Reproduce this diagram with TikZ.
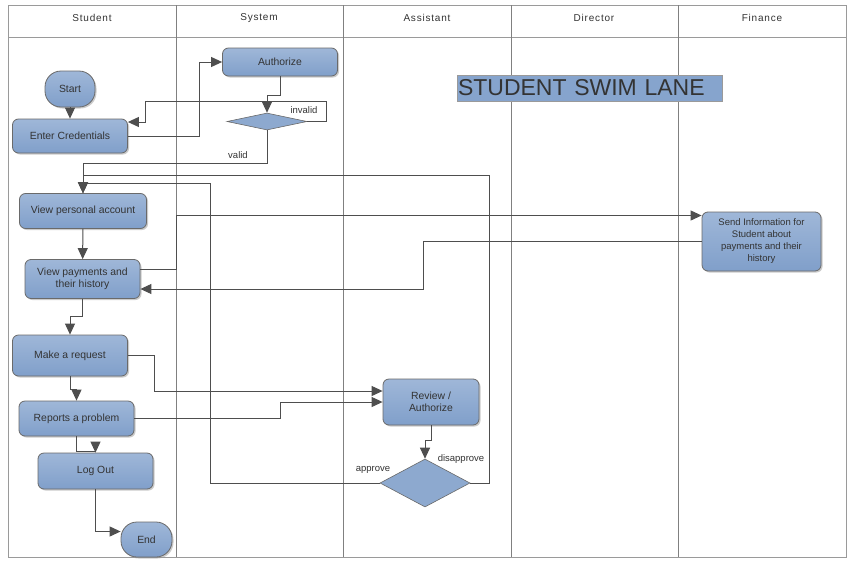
\documentclass[tikz,border=0pt]{standalone}
\usepackage{fontspec}
\setmainfont{Liberation Sans}
\usepackage{tikz}
\usetikzlibrary{arrows.meta,shapes,shadows,positioning}

\definecolor{boxtop}{HTML}{9FB7D8}
\definecolor{boxbot}{HTML}{809FCA}
\definecolor{boxline}{HTML}{6A6A6A}
\definecolor{linec}{HTML}{4E4E4E}
\definecolor{txt}{HTML}{333333}
\definecolor{lanec}{HTML}{9A9A9A}

\tikzset{
  box/.style={rectangle, rounded corners=6pt, draw=boxline, line width=0.8pt,
    top color=boxtop, bottom color=boxbot, text=txt, align=center, inner sep=0pt,
    font=\fontsize{10.4}{12.5}\selectfont,
    drop shadow={shadow xshift=1.5pt, shadow yshift=-1.5pt, fill=black!40}},
  term/.style={box, rounded corners=16pt},
  decide/.style={diamond, draw=boxline, line width=0.6pt, fill=boxbot!90!white, inner sep=0pt},
  flow/.style={draw=linec, line width=1pt, -{Triangle[length=11pt,width=10pt]}},
  lane/.style={draw=lanec, line width=0.8pt},
  lanehead/.style={text=txt, font=\fontsize{10}{12}\selectfont\addfontfeature{LetterSpace=8}},
  lbl/.style={text=txt, font=\fontsize{9.5}{11}\selectfont, inner sep=0pt}
}

\begin{document}
\begin{tikzpicture}[x=1pt,y=-1pt]
  \useasboundingbox (0,0) rectangle (856,565);
  \fill[white] (0,0) rectangle (856,565);

  % lanes
  \draw[lane] (8,5) rectangle (846,557);
  \draw[lane] (8,37) -- (846,37);
  \foreach \lx in {176,343,511,678}
    \draw[lane, draw=gray] (\lx,5) -- (\lx,557);
  \node[lanehead] (hstu) at (92,18) {Student};
  \node[lanehead] (hsys) at (259,18) {System};
  \node[lanehead] (hass) at (427,18) {Assistant};
  \node[lanehead] (hdir) at (594,18) {Director};
  \node[lanehead] (hfin) at (762,18) {Finance};

  % title
  \node[draw=lanec, fill=boxbot!95!white, text=txt, minimum width=265pt, minimum height=26pt,
        inner xsep=1pt, text width=263pt, align=left, font=\fontsize{23}{26}\selectfont]
        (ttl) at (589.5,88) {STUDENT SWIM LANE};

  % nodes
  \node[term, minimum width=50pt, minimum height=36pt] (start) at (70,89) {Start};
  \node[box, minimum width=115pt, minimum height=34pt] (enter) at (70,136) {Enter Credentials};
  \node[box, minimum width=115pt, minimum height=28pt] (auth) at (280,62) {Authorize};
  \node[decide, minimum width=80pt, minimum height=17pt] (chk) at (267,121.5) {};
  \node[box, minimum width=127pt, minimum height=35pt] (vpa) at (83,211) {View personal account};
  \node[box, minimum width=115pt, minimum height=39pt] (vp) at (82.5,279) {View payments and\\their history};
  \node[box, minimum width=119pt, minimum height=59pt, font=\fontsize{9.5}{12}\selectfont]
        (send) at (761.5,241.5) {Send Information for\\Student about\\payments and their\\history};
  \node[box, minimum width=115pt, minimum height=41pt] (req) at (70,355.5) {Make a request};
  \node[box, minimum width=115pt, minimum height=35pt] (rep) at (76.5,418.5) {Reports a problem};
  \node[box, minimum width=96pt, minimum height=46pt] (rev) at (431,402) {Review /\\Authorize};
  \node[decide, minimum width=90pt, minimum height=48pt] (dec) at (425,483) {};
  \node[box, minimum width=115pt, minimum height=36pt] (out) at (95.5,471) {Log Out};
  \node[term, minimum width=51pt, minimum height=35pt] (end) at (146.5,539.5) {End};

  \coordinate (inv) at (145,101);
  \coordinate (apv) at (210,183);
  \coordinate (dis) at (489,175);

  % connectors
  \draw[flow] (start) -- (enter);
  \draw[flow] (enter.east) -- ++(72,0) |- (auth.west);
  \draw[flow] (auth.south) -- ++(0,19) -| (chk.north);
  \draw[flow] (chk.east) -- ++(19,0) |- (inv) |- ([yshift=14pt]enter.east);
  \draw[flow] (chk.south) -- ++(0,33) -| (vpa.north);
  \draw[flow] (vpa) -- (vp);
  \draw[flow] ([yshift=10pt]vp.east) -- ++(36,0) |- ([yshift=26pt]send.west);
  \draw[flow] (send.west) -- ++(-278,0) |- ([yshift=-10pt]vp.east);
  \draw[flow] (vp.south) -- ++(0,18) -| (req.north);
  \draw[flow] (req.east) -- ++(27,0) |- ([yshift=11pt]rev.west);
  \draw[flow] (req.south) -- ++(0,13) -| (rep.north);
  \draw[flow] (rep.east) -- ++(146,0) |- (rev.west);
  \draw[flow] (rev.south) -- ++(0,15) -| (dec.north);
  \draw[flow] (rep.south) -- ++(0,15) -| (out.north);
  \draw[flow] (out.south) |- ([yshift=8pt]end.west);
  \draw[flow] (dec.west) -| (apv) -| (vpa.north);
  \draw[flow] (dec.east) -| (dis) -| (vpa.north);

  % labels
  \node[lbl] (linv) at (304,110) {invalid};
  \node[lbl] (lval) at (238,155) {valid};
  \node[lbl] (lapp) at (373,470) {approve};
  \node[lbl] (ldis) at (461,459) {disapprove};
\end{tikzpicture}
\end{document}
